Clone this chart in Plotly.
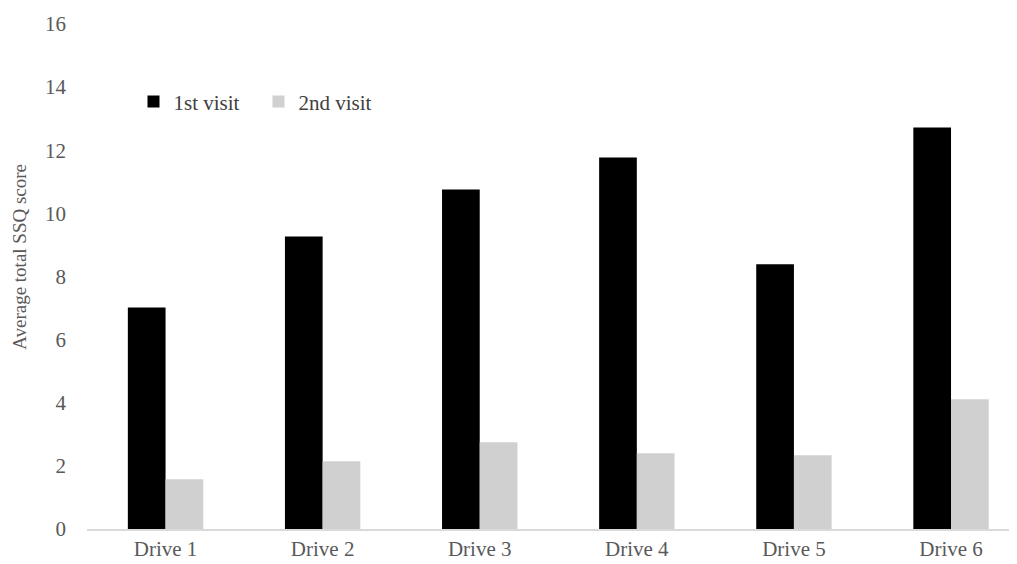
import plotly.graph_objects as go

categories = ["Drive 1", "Drive 2", "Drive 3", "Drive 4", "Drive 5", "Drive 6"]
visit1 = [7.02, 9.27, 10.76, 11.77, 8.39, 12.72]
visit2 = [1.58, 2.15, 2.75, 2.40, 2.34, 4.11]
yticks = [0, 2, 4, 6, 8, 10, 12, 14, 16]

fig = go.Figure()
fig.add_trace(go.Bar(x=categories, y=visit1, name="1st visit", marker_color="#000000",
                     marker_line_width=0))
fig.add_trace(go.Bar(x=categories, y=visit2, name="2nd visit", marker_color="#d0d0d0",
                     marker_line_width=0))

font_family = "Liberation Serif"
fig.update_layout(
    width=1009, height=556,
    margin=dict(l=79, r=0, t=16, b=35),
    paper_bgcolor="white", plot_bgcolor="white",
    barmode="group", bargap=0.52, bargroupgap=0,
    font=dict(family=font_family, size=21, color="#595959"),
    legend=dict(orientation="h", x=0.05, y=0.846, xanchor="left", yanchor="middle",
                font=dict(family=font_family, size=21, color="#404040"),
                bgcolor="rgba(0,0,0,0)", entrywidth=80, itemwidth=30),
    xaxis=dict(range=[-0.5, 5.42], showgrid=False, showline=True, linecolor="#d9d9d9",
               linewidth=1.5, ticks="", tickfont=dict(family=font_family, size=21, color="#595959")),
    yaxis=dict(range=[0, 16], tickvals=yticks, showgrid=False, showline=False,
               zeroline=False, ticks="", ticklabelstandoff=20,
               tickfont=dict(family=font_family, size=21, color="#595959")),
    annotations=[dict(text="Average total SSQ score", xref="paper", yref="paper",
                      x=-0.072, y=0.539, xanchor="center", yanchor="middle",
                      textangle=-90, showarrow=False,
                      font=dict(family=font_family, size=19, color="#595959"))],
)
fig.write_html("out.html")
